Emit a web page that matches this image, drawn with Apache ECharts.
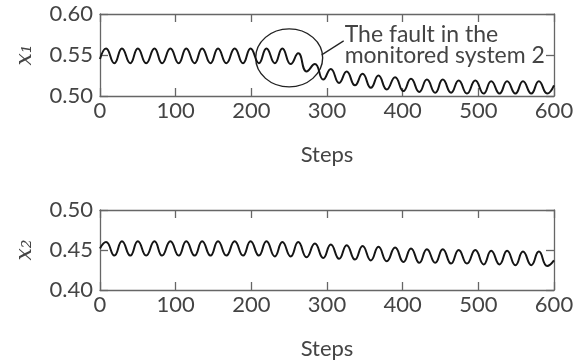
<!DOCTYPE html>
<html>
<head>
<meta charset="utf-8">
<script src="https://cdn.jsdelivr.net/npm/echarts@6/dist/echarts.min.js"></script>
<style>
  html, body { margin: 0; background: #fff; }
  #main { width: 584px; height: 363px; }
</style>
</head>
<body>
<div id="main"></div>
<script>
// peaks / troughs
var steps = [0, 8, 19, 29, 40, 50, 61, 72, 82, 93,
  104, 114, 125, 135, 146, 156, 167, 178, 189, 199,
  210, 220, 231, 241, 252, 262, 273, 284, 295, 305,
  316, 326, 337, 347, 358, 368, 379, 390, 401, 411,
  422, 432, 443, 453, 464, 474, 485, 496, 507, 517,
  528, 538, 549, 559, 570, 580, 591, 600];

var x1Values = [0.545, 0.558, 0.540, 0.558, 0.540, 0.558, 0.540, 0.558, 0.540, 0.558,
  0.540, 0.558, 0.540, 0.558, 0.540, 0.558, 0.540, 0.558, 0.540, 0.558,
  0.540, 0.558, 0.540, 0.558, 0.539, 0.552, 0.530, 0.539, 0.520, 0.533,
  0.516, 0.530, 0.513, 0.527, 0.510, 0.525, 0.508, 0.523, 0.506, 0.521,
  0.505, 0.520, 0.504, 0.520, 0.504, 0.519, 0.503, 0.519, 0.503, 0.518,
  0.503, 0.518, 0.503, 0.518, 0.503, 0.518, 0.503, 0.513];

var x2Values = [0.452, 0.460, 0.443, 0.461, 0.443, 0.461, 0.443, 0.461, 0.443, 0.461,
  0.443, 0.461, 0.443, 0.461, 0.443, 0.461, 0.443, 0.461, 0.443, 0.461,
  0.443, 0.461, 0.442, 0.460, 0.442, 0.460, 0.441, 0.458, 0.440, 0.457,
  0.439, 0.456, 0.438, 0.455, 0.437, 0.454, 0.436, 0.453, 0.435, 0.452,
  0.434, 0.451, 0.434, 0.451, 0.433, 0.450, 0.433, 0.450, 0.432, 0.449,
  0.432, 0.449, 0.431, 0.448, 0.431, 0.448, 0.430, 0.437];

var faultText = 'The fault in the\nmonitored system 2';

var FONT = 'Lato';
var TEXT = '#444';
var AXIS = '#666';

function pairs(vals) {
  return steps.map(function (s, i) { return [s, vals[i]]; });
}

// onZero off, otherwise the y axes snap to x = 0 (left edge)
var axisLine = { show: true, onZero: false, lineStyle: { color: AXIS, width: 1.3 } };
var tickIn = { show: true, inside: true, length: 8, lineStyle: { color: AXIS, width: 1.3 } };

function xAxes(grid) {
  return [{
    gridIndex: grid, type: 'value', min: 0, max: 600, interval: 100,
    name: 'Steps', nameLocation: 'middle', nameGap: 48,
    nameTextStyle: { fontFamily: FONT, fontSize: 22, color: TEXT },
    axisLine: axisLine,
    axisTick: tickIn,
    axisLabel: { margin: 4, fontFamily: FONT, fontSize: 22, color: TEXT },
    splitLine: { show: false }
  }, {
    gridIndex: grid, type: 'value', position: 'top', min: 0, max: 600, interval: 100,
    axisLine: axisLine,
    axisTick: tickIn,
    axisLabel: { show: false },
    splitLine: { show: false }
  }];
}

function yAxes(grid, min, max, sub) {
  return [{
    gridIndex: grid, type: 'value', position: 'left', min: min, max: max, interval: 0.05,
    name: 'x' + sub, nameLocation: 'middle', nameRotate: 90, nameGap: 64,
    nameTextStyle: { fontFamily: 'DejaVu Serif', fontStyle: 'italic', fontSize: 22, color: TEXT },
    axisLine: axisLine,
    axisTick: tickIn,
    axisLabel: {
      margin: 7, fontFamily: FONT, fontSize: 22, color: TEXT,
      formatter: function (v) { return v.toFixed(2); }
    },
    splitLine: { show: false }
  }, {
    gridIndex: grid, type: 'value', position: 'right', min: min, max: max, interval: 0.05,
    axisLine: axisLine,
    axisTick: tickIn,
    axisLabel: { show: false },
    splitLine: { show: false }
  }];
}

var chart = echarts.init(document.getElementById('main'), null, { renderer: 'canvas' });

var lineStyle = { color: '#151515', width: 2 };

chart.setOption({
  animation: false,
  grid: [
    { left: 100, right: 30, top: 14, height: 82 },
    { left: 100, right: 30, top: 210, height: 80 }
  ],
  xAxis: xAxes(0).concat(xAxes(1)),
  yAxis: yAxes(0, 0.5, 0.6, '\u2081').concat(yAxes(1, 0.4, 0.5, '\u2082')),
  series: [{
    type: 'line', xAxisIndex: 0, yAxisIndex: 0, data: pairs(x1Values),
    smooth: 0.5, showSymbol: false, lineStyle: lineStyle
  }, {
    type: 'line', xAxisIndex: 2, yAxisIndex: 2, data: pairs(x2Values),
    smooth: 0.5, showSymbol: false, lineStyle: lineStyle
  }]
});

// fault annotation: ellipse around step ~250 plus leader line and text
var c = chart.convertToPixel({ gridIndex: 0 }, [250, 0.5465]);
chart.setOption({
  graphic: [{
    type: 'circle', x: c[0], y: c[1], scaleX: 33.5 / 29,
    shape: { cx: 0, cy: 0, r: 29 },
    style: { fill: 'none', stroke: '#222', lineWidth: 1.2, strokeNoScale: true }
  }, {
    type: 'line',
    shape: { x1: c[0] + 32.5, y1: c[1] - 3, x2: c[0] + 54.5, y2: c[1] - 17 },
    style: { stroke: '#222', lineWidth: 1.2 }
  }, {
    type: 'text', x: c[0] + 55.5, y: c[1] - 34,
    style: {
      text: faultText, font: '23px ' + FONT, fill: TEXT,
      lineHeight: 21, textVerticalAlign: 'top'
    }
  }]
});
</script>
</body>
</html>
